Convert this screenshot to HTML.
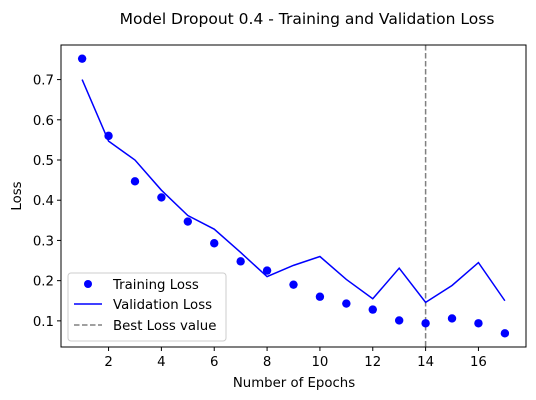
<!DOCTYPE html>
<html><head><meta charset="utf-8"><style>
body{margin:0;background:#fff;}
svg{display:block;font-family:"DejaVu Sans","Liberation Sans",sans-serif;}
</style></head><body>
<svg id="chart" width="536" height="400">
<text x="307" y="24" text-anchor="middle" font-size="15.5">Model Dropout 0.4 - Training and Validation Loss</text>
<g id="axes"></g>
<g id="marks"></g>
<text x="294" y="387" text-anchor="middle" font-size="13.3">Number of Epochs</text>
<text transform="translate(21,196) rotate(-90)" text-anchor="middle" font-size="13.3">Loss</text>
<rect x="61" y="45" width="465" height="302" fill="none" stroke="#000" stroke-width="1"/>
<g>
<rect x="68" y="273" width="158" height="68" rx="3" fill="#fff" fill-opacity="0.8" stroke="#ccc"/>
<circle cx="88" cy="284" r="4" fill="#0000ff"/>
<text x="113" y="289" font-size="13.3">Training Loss</text>
<line x1="74" y1="304" x2="102" y2="304" stroke="#0000ff" stroke-width="1.5"/>
<text x="113" y="309" font-size="13.3">Validation Loss</text>
<line x1="74" y1="325" x2="102" y2="325" stroke="#808080" stroke-width="1.5" stroke-dasharray="5.5,2.5"/>
<text x="113" y="330" font-size="13.3">Best Loss value</text>
</g>
</svg>
<script>
const epochs=[1,2,3,4,5,6,7,8,9,10,11,12,13,14,15,16,17];
const trainLoss=[0.752,0.56,0.447,0.407,0.347,0.293,0.248,0.225,0.19,0.16,0.143,0.128,0.101,0.094,0.106,0.094,0.069];
const valLoss=[0.70,0.547,0.50,0.425,0.362,0.328,0.27,0.21,0.238,0.26,0.203,0.155,0.231,0.146,0.188,0.245,0.15];
const bestEpoch=14;
const xTicks=[2,4,6,8,10,12,14,16];
const yTicks=[0.1,0.2,0.3,0.4,0.5,0.6,0.7];
const NS='http://www.w3.org/2000/svg';
const L=61,R=526,T=45,B=347;
const xmin=0.2,xmax=17.8,ymin=0.035,ymax=0.786;
function xs(v){return L+(v-xmin)/(xmax-xmin)*(R-L);}
function ys(v){return B-(v-ymin)/(ymax-ymin)*(B-T);}
function mk(tag,at,parent){const e=document.createElementNS(NS,tag);for(const k in at)e.setAttribute(k,at[k]);parent.appendChild(e);return e;}
const axes=document.getElementById('axes'),marks=document.getElementById('marks');
xTicks.forEach(t=>{
 const l=mk('line',{x1:xs(t),x2:xs(t),y1:B,y2:B+4,stroke:'#000'},axes);
 
 
 const tx=mk('text',{x:xs(t),y:B+19,'text-anchor':'middle','font-size':'13.3'},axes);tx.textContent=t;
 
 
});
yTicks.forEach(t=>{
 const l=mk('line',{x1:L-4,x2:L,y1:ys(t),y2:ys(t),stroke:'#000'},axes);
 
 
 const tx=mk('text',{x:L-7,y:ys(t)+5,'text-anchor':'end','font-size':'13.3'},axes);tx.textContent=t.toFixed(1);
 
 
});
const best=mk('line',{x1:xs(bestEpoch),x2:xs(bestEpoch),y1:T,y2:B,stroke:'#808080','stroke-width':1.5,'stroke-dasharray':'5.5,2.5'},marks);


const vl=mk('polyline',{points:epochs.map((e,i)=>xs(e)+','+ys(valLoss[i])).join(' '),fill:'none',stroke:'#0000ff','stroke-width':1.5},marks);


epochs.forEach((e,i)=>{
 const c=mk('circle',{cx:xs(e),cy:ys(trainLoss[i]),r:4.2,fill:'#0000ff'},marks);
 
 
});
</script>
</body></html>
